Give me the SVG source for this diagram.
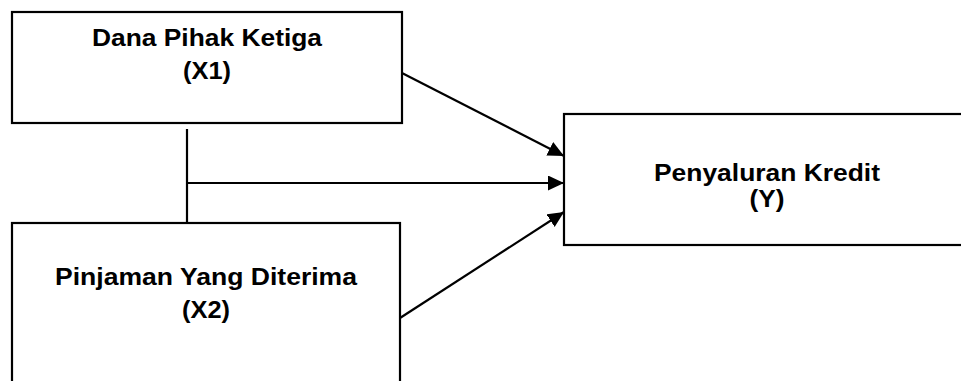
<svg xmlns="http://www.w3.org/2000/svg" width="961" height="381" viewBox="0 0 961 381">
<style>
.box{fill:#fff;stroke:#000;stroke-width:2.2}
.lbl{font-family:"Liberation Sans",Arial,sans-serif;font-weight:bold;font-size:24.5px;fill:#000;text-anchor:middle}
.conn{stroke:#000;stroke-width:2.2;fill:none}
</style>
<defs>
<marker id="arr" markerUnits="userSpaceOnUse" markerWidth="17" markerHeight="16" refX="16" refY="7.5" orient="auto">
<path d="M0,0 L16,7.5 L0,15 z" fill="#000"/>
</marker>
</defs>
<rect width="961" height="381" fill="#fff"/>
<g id="connectors">
<line class="conn" x1="187" y1="129" x2="187" y2="223"/>
<line class="conn" x1="187" y1="183" x2="564" y2="183" marker-end="url(#arr)"/>
<line class="conn" x1="400" y1="72" x2="564" y2="156" marker-end="url(#arr)"/>
<line class="conn" x1="400" y1="318" x2="564" y2="212" marker-end="url(#arr)"/>
</g>
<g id="node-x1">
<rect class="box" x="12" y="12" width="390" height="111"/>
<text class="lbl" x="207" y="46" textLength="230" lengthAdjust="spacingAndGlyphs">Dana Pihak Ketiga</text>
<text class="lbl" x="207" y="79" textLength="48" lengthAdjust="spacingAndGlyphs">(X1)</text>
</g>
<g id="node-x2">
<rect class="box" x="12" y="223" width="388" height="170"/>
<text class="lbl" x="206" y="285" textLength="302" lengthAdjust="spacingAndGlyphs">Pinjaman Yang Diterima</text>
<text class="lbl" x="206" y="318" textLength="48" lengthAdjust="spacingAndGlyphs">(X2)</text>
</g>
<g id="node-y">
<rect class="box" x="564" y="114" width="420" height="131"/>
<text class="lbl" x="767" y="181" textLength="226" lengthAdjust="spacingAndGlyphs">Penyaluran Kredit</text>
<text class="lbl" x="767" y="207" textLength="35" lengthAdjust="spacingAndGlyphs">(Y)</text>
</g>
</svg>
